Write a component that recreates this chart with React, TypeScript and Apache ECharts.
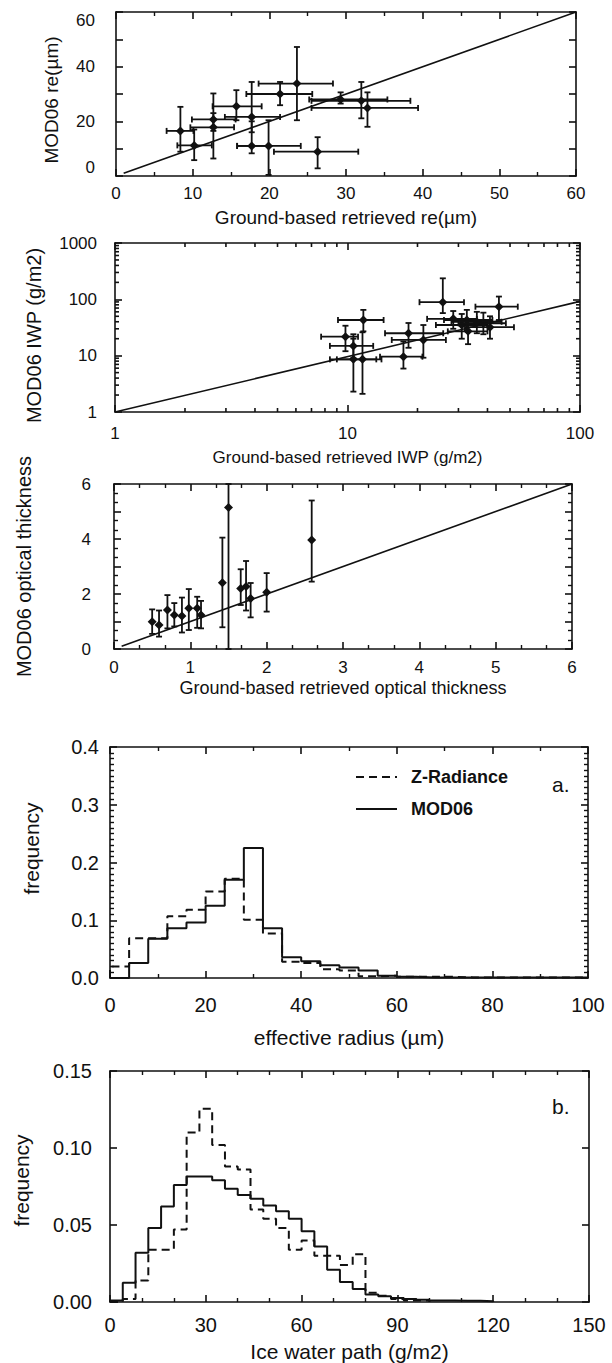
import { useEffect, useRef } from 'react';
import * as echarts from 'echarts';

const INK = '#111111';
const FONT = '"Liberation Sans", Arial, Helvetica, sans-serif';

// ---------- Panel 1: effective radius, [x, y, xLow, xHigh, yLow, yHigh]
const reScatter = [
  [8.4, 16.5, 6.6, 10.1, 8.9, 25.3],
  [10.2, 11.2, 8.0, 12.5, 5.8, 17.0],
  [12.7, 20.7, 9.9, 15.6, 16.5, 30.2],
  [12.7, 17.8, 9.7, 15.4, 6.4, 23.0],
  [15.7, 25.5, 12.6, 19.0, 20.4, 31.4],
  [17.7, 21.6, 14.2, 21.4, 16.0, 34.4],
  [17.7, 11.0, 15.8, 19.9, 8.3, 20.0],
  [19.9, 11.0, 15.8, 24.1, 0.4, 20.4],
  [21.4, 30.0, 17.0, 25.6, 25.9, 34.4],
  [23.6, 33.8, 18.6, 28.3, 20.4, 47.2],
  [26.3, 8.9, 20.6, 31.6, 2.8, 14.2],
  [29.3, 28.0, 25.2, 35.4, 26.5, 30.6],
  [32.0, 27.5, 25.5, 38.4, 21.1, 34.4],
  [32.8, 24.9, 25.5, 39.4, 18.0, 30.6],
];
const reReferenceLine = [[1, 1], [60, 60]];

// ---------- Panel 2: ice water path (log-log), [x, y, xLow, xHigh, yLow, yHigh]
const iwpScatter = [
  [11.7, 43, 9.1, 14.3, 27, 65],
  [9.8, 21.7, 7.7, 11.1, 12, 34],
  [10.6, 14.9, 8.4, 12.9, 9, 24],
  [10.6, 8.6, 8.4, 13.3, 2.3, 20],
  [11.6, 8.6, 9.0, 14.0, 2.1, 26],
  [17.4, 9.6, 13.8, 21.0, 5.9, 17.8],
  [18.3, 25, 14.5, 25.8, 13.8, 38],
  [21.2, 19, 15.5, 26.5, 9.2, 35],
  [25.7, 89, 20.4, 31.7, 57, 236],
  [28.5, 45, 22.0, 36.0, 30, 62],
  [31.0, 35, 24.0, 40.0, 20, 55],
  [32.6, 43, 26.0, 42.0, 28, 65],
  [33.0, 27, 27.0, 40.0, 16, 45],
  [38.4, 37.6, 30.0, 48.0, 24, 58],
  [44.8, 74, 35.5, 54.0, 43, 112],
  [41.0, 32, 32.0, 52.0, 20, 50],
  [36.0, 40, 28.0, 46.0, 25, 60],
];
const iwpReferenceLine = [[1, 1], [100, 92]];
const iwpMinorTicksX = [2, 3, 4, 5, 6, 7, 8, 9, 20, 30, 40, 50, 60, 70, 80, 90];
const iwpMinorTicksY = [2, 3, 4, 5, 6, 7, 8, 9, 20, 30, 40, 50, 60, 70, 80, 90, 200, 300, 400, 500, 600, 700, 800, 900];

// ---------- Panel 3: optical thickness, [x, y, yLow, yHigh]
const tauScatter = [
  [0.5, 0.99, 0.55, 1.44],
  [0.59, 0.87, 0.45, 1.4],
  [0.7, 1.42, 0.75, 1.96],
  [0.79, 1.24, 0.82, 1.67],
  [0.89, 1.2, 0.6, 1.87],
  [0.98, 1.48, 0.69, 2.18],
  [1.09, 1.48, 0.77, 1.9],
  [1.14, 1.24, 0.75, 1.75],
  [1.42, 2.41, 0.79, 4.05],
  [1.5, 5.15, 0, 6],
  [1.66, 2.2, 1.6, 2.9],
  [1.73, 2.27, 1.4, 3.2],
  [1.79, 1.84, 1.15, 2.4],
  [2.0, 2.06, 1.36, 2.76],
  [2.59, 3.96, 2.45, 5.4],
];
const tauReferenceLine = [[0.1, 0.1], [6, 6]];

// ---------- Panel 4: effective radius histogram (bins of 4 µm from 0)
const reBinStart = 0;
const reBinWidth = 4;
const reHistZRadiance = [0.02, 0.069, 0.069, 0.107, 0.118, 0.15, 0.172, 0.101, 0.077, 0.028, 0.026, 0.015, 0.013, 0.003, 0.004, 0.002, 0.002, 0.002, 0.001, 0.001, 0.001, 0.001, 0.001, 0.001, 0.001];
const reHistMod06 = [0, 0.026, 0.068, 0.086, 0.096, 0.125, 0.17, 0.225, 0.086, 0.036, 0.029, 0.022, 0.018, 0.013, 0.004, 0.002, 0.001, 0.001, 0.001, 0.001, 0.001, 0.001, 0.001, 0.001, 0.001];

// ---------- Panel 5: ice water path histogram (bins of 4 g/m2 from 0)
const iwpBinStart = 0;
const iwpBinWidth = 4;
const iwpHistZRadiance = [0, 0.002, 0.014, 0.034, 0.034, 0.047, 0.11, 0.1255, 0.102, 0.088, 0.086, 0.06, 0.054, 0.048, 0.034, 0.04, 0.03, 0.03, 0.024, 0.031, 0.006, 0.004, 0.002, 0.001, 0.001];
const iwpHistMod06 = [0.001, 0.0125, 0.032, 0.048, 0.062, 0.076, 0.0815, 0.0815, 0.079, 0.0736, 0.0694, 0.067, 0.0627, 0.059, 0.054, 0.046, 0.036, 0.021, 0.013, 0.0085, 0.0048, 0.0037, 0.0026, 0.002, 0.0015, 0.001, 0.001, 0.0008, 0.0008, 0.0005];

const SERIES_NAMES = ['Z-Radiance', 'MOD06'];

function stepPoints(start: number, width: number, values: number[]) {
  const pts: number[][] = [[start, 0]];
  values.forEach((v, i) => {
    pts.push([start + i * width, v]);
    pts.push([start + (i + 1) * width, v]);
  });
  pts.push([start + values.length * width, 0]);
  return pts;
}

const barStyle = { stroke: INK, lineWidth: 1.8 };
const tickStyle = { stroke: INK, lineWidth: 1.6 };

function renderErrorBar(_params: any, api: any) {
  const x = api.value(0);
  const y = api.value(1);
  const xlo = api.value(2);
  const xhi = api.value(3);
  const ylo = api.value(4);
  const yhi = api.value(5);
  const c = api.coord([x, y]);
  const cap = 3;
  const children: any[] = [];
  if (xhi > xlo) {
    const l = api.coord([xlo, y]);
    const r = api.coord([xhi, y]);
    children.push({ type: 'line', shape: { x1: l[0], y1: l[1], x2: r[0], y2: r[1] }, style: barStyle });
    children.push({ type: 'line', shape: { x1: l[0], y1: l[1] - cap, x2: l[0], y2: l[1] + cap }, style: barStyle });
    children.push({ type: 'line', shape: { x1: r[0], y1: r[1] - cap, x2: r[0], y2: r[1] + cap }, style: barStyle });
  }
  if (yhi > ylo) {
    const b = api.coord([x, ylo]);
    const t = api.coord([x, yhi]);
    children.push({ type: 'line', shape: { x1: b[0], y1: b[1], x2: t[0], y2: t[1] }, style: barStyle });
    children.push({ type: 'line', shape: { x1: b[0] - cap, y1: b[1], x2: b[0] + cap, y2: b[1] }, style: barStyle });
    children.push({ type: 'line', shape: { x1: t[0] - cap, y1: t[1], x2: t[0] + cap, y2: t[1] }, style: barStyle });
  }
  const d = 4.5;
  children.push({
    type: 'polygon',
    shape: { points: [[c[0], c[1] - d], [c[0] + d, c[1]], [c[0], c[1] + d], [c[0] - d, c[1]]] },
    style: { fill: INK },
  });
  return { type: 'group', children };
}

function makeAxis(gridIndex: number, position: string, o: any, withLabel: boolean) {
  const ax: any = {
    gridIndex,
    position,
    type: o.type || 'value',
    min: o.min,
    max: o.max,
    splitLine: { show: false },
    axisLine: { show: true, onZero: false, lineStyle: { color: INK, width: 1.6 } },
    axisTick: { show: true, inside: true, length: 7, lineStyle: { color: INK, width: 1.6 } },
  };
  if (o.interval !== undefined) ax.interval = o.interval;
  if (o.logBase) ax.logBase = o.logBase;
  if (o.minor) ax.minorTick = { show: true, splitNumber: o.minor, length: 4, lineStyle: { color: INK, width: 1.4 } };
  if (withLabel) {
    ax.name = o.name;
    ax.nameLocation = 'middle';
    ax.nameGap = o.nameGap;
    ax.nameTextStyle = { fontFamily: FONT, fontSize: o.nameSize, color: INK, padding: o.namePadding || 0 };
    const lab: any = { show: true, margin: o.margin, fontFamily: FONT, fontSize: o.labelSize, color: INK };
    if (o.formatter) lab.formatter = o.formatter;
    if (o.labelExtra) Object.assign(lab, o.labelExtra);
    ax.axisLabel = lab;
  } else {
    ax.axisLabel = { show: false };
  }
  return ax;
}

function xAxes(gridIndex: number, o: any) {
  return [makeAxis(gridIndex, 'bottom', o, true), makeAxis(gridIndex, 'top', o, false)];
}
function yAxes(gridIndex: number, o: any) {
  return [makeAxis(gridIndex, 'left', o, true), makeAxis(gridIndex, 'right', o, false)];
}

function minorTickSeries(axisIdx: number, values: number[], dir: 'x' | 'y', lo: number[], hi: number[]) {
  return {
    type: 'custom',
    xAxisIndex: axisIdx,
    yAxisIndex: axisIdx,
    silent: true,
    data: values.map((v) => (dir === 'x' ? [v, lo[1]] : [lo[0], v])),
    encode: { x: 0, y: 1 },
    renderItem: (_p: any, api: any) => {
      const len = 4;
      if (dir === 'x') {
        const v = api.value(0);
        const b = api.coord([v, lo[1]]);
        const t = api.coord([v, hi[1]]);
        return {
          type: 'group',
          children: [
            { type: 'line', shape: { x1: b[0], y1: b[1], x2: b[0], y2: b[1] - len }, style: tickStyle },
            { type: 'line', shape: { x1: t[0], y1: t[1], x2: t[0], y2: t[1] + len }, style: tickStyle },
          ],
        };
      }
      const v = api.value(1);
      const l = api.coord([lo[0], v]);
      const r = api.coord([hi[0], v]);
      return {
        type: 'group',
        children: [
          { type: 'line', shape: { x1: l[0], y1: l[1], x2: l[0] + len, y2: l[1] }, style: tickStyle },
          { type: 'line', shape: { x1: r[0], y1: r[1], x2: r[0] - len, y2: r[1] }, style: tickStyle },
        ],
      };
    },
  };
}

function histLine(name: string, axisIdx: number, data: number[][], dashed: boolean) {
  return {
    name,
    type: 'line',
    xAxisIndex: axisIdx,
    yAxisIndex: axisIdx,
    data,
    symbol: 'none',
    showSymbol: false,
    silent: true,
    itemStyle: { color: INK },
    lineStyle: { color: INK, width: 2, type: dashed ? [8, 5] : 'solid' },
  };
}

export default function App() {
  const ref = useRef<HTMLDivElement>(null);
  useEffect(() => {
    if (!ref.current) return;
    const chart = echarts.init(ref.current, null, { renderer: 'svg' });
    const option: any = {
      animation: false,
      backgroundColor: '#ffffff',
      grid: [
        { left: 116, top: 12, width: 460, height: 164 },
        { left: 115, top: 243, width: 465, height: 169 },
        { left: 114, top: 484, width: 458, height: 165 },
        { left: 110, top: 747, width: 478, height: 231 },
        { left: 110, top: 1071, width: 479, height: 231 },
      ],
      xAxis: [
        ...xAxes(0, { min: 0, max: 60, interval: 10, minor: 2, name: 'Ground-based retrieved re(µm)', nameGap: 32, nameSize: 19, margin: 9, labelSize: 17 }),
        ...xAxes(1, { type: 'log', logBase: 10, min: 1, max: 100, name: 'Ground-based retrieved IWP (g/m2)', nameGap: 37, nameSize: 17, margin: 13, labelSize: 17, formatter: (v: number) => String(v) }),
        ...xAxes(2, { min: 0, max: 6, interval: 1, minor: 3, name: 'Ground-based retrieved optical thickness', nameGap: 30, nameSize: 18, margin: 10, labelSize: 17 }),
        ...xAxes(3, { min: 0, max: 100, interval: 20, minor: 2, name: 'effective radius (µm)', nameGap: 49, nameSize: 21, margin: 17, labelSize: 20 }),
        ...xAxes(4, { min: 0, max: 150, interval: 30, minor: 3, name: 'Ice water path (g/m2)', nameGap: 39, nameSize: 21, margin: 13, labelSize: 20 }),
      ],
      yAxis: [
        ...yAxes(0, {
          min: 0, max: 60, interval: 10, name: 'MOD06 re(µm)', nameGap: 55, nameSize: 19, margin: 21, labelSize: 17,
          namePadding: [0, 12, 0, 0],
          labelExtra: { verticalAlignMaxLabel: 'top', verticalAlignMinLabel: 'bottom' },
          formatter: (v: number) => (v % 20 === 0 ? String(v) : ''),
        }),
        ...yAxes(1, { type: 'log', logBase: 10, min: 1, max: 1000, name: 'MOD06 IWP (g/m2)', nameGap: 71, nameSize: 20, margin: 18, labelSize: 17, namePadding: [0, 16, 0, 0], formatter: (v: number) => String(v) }),
        ...yAxes(2, { min: 0, max: 6, interval: 1, minor: 3, name: 'MOD06 optical thickness', nameGap: 80, nameSize: 20, margin: 23, labelSize: 17, formatter: (v: number) => (v % 2 === 0 ? String(v) : '') }),
        ...yAxes(3, { min: 0, max: 0.4, interval: 0.1, minor: 10, name: 'frequency', nameGap: 68, nameSize: 21, margin: 11, labelSize: 20, namePadding: [0, 0, 0, 28], formatter: (v: number) => v.toFixed(1) }),
        ...yAxes(4, { min: 0, max: 0.15, interval: 0.05, name: 'frequency', nameGap: 78, nameSize: 21, margin: 18, labelSize: 20, namePadding: [0, 0, 0, 12], formatter: (v: number) => v.toFixed(2) }),
      ],
      legend: {
        data: SERIES_NAMES,
        orient: 'vertical',
        left: 350,
        top: 763,
        itemWidth: 41,
        itemHeight: 12,
        itemGap: 14,
        selectedMode: false,
        itemStyle: { opacity: 0 },
        textStyle: { fontFamily: FONT, fontSize: 18, fontWeight: 'bold', color: INK, padding: [0, 0, 0, 9] },
      },
      graphic: [
        { type: 'text', left: 552, top: 774, style: { text: 'a.', font: `21px ${FONT}`, fill: INK } },
        { type: 'text', left: 552, top: 1096, style: { text: 'b.', font: `21px ${FONT}`, fill: INK } },
      ],
      series: [
        { type: 'line', xAxisIndex: 0, yAxisIndex: 0, data: reReferenceLine, symbol: 'none', silent: true, lineStyle: { color: INK, width: 1.6 } },
        { type: 'custom', xAxisIndex: 0, yAxisIndex: 0, data: reScatter, encode: { x: 0, y: 1 }, renderItem: renderErrorBar, silent: true },

        { type: 'line', xAxisIndex: 2, yAxisIndex: 2, data: iwpReferenceLine, symbol: 'none', silent: true, lineStyle: { color: INK, width: 1.6 } },
        { type: 'custom', xAxisIndex: 2, yAxisIndex: 2, data: iwpScatter, encode: { x: 0, y: 1 }, renderItem: renderErrorBar, silent: true },
        minorTickSeries(2, iwpMinorTicksX, 'x', [1, 1], [100, 1000]),
        minorTickSeries(2, iwpMinorTicksY, 'y', [1, 1], [100, 1000]),

        { type: 'line', xAxisIndex: 4, yAxisIndex: 4, data: tauReferenceLine, symbol: 'none', silent: true, lineStyle: { color: INK, width: 1.6 } },
        {
          type: 'custom', xAxisIndex: 4, yAxisIndex: 4,
          data: tauScatter.map((p) => [p[0], p[1], p[0], p[0], p[2], p[3]]),
          encode: { x: 0, y: 1 }, renderItem: renderErrorBar, silent: true,
        },

        histLine(SERIES_NAMES[0], 6, stepPoints(reBinStart, reBinWidth, reHistZRadiance), true),
        histLine(SERIES_NAMES[1], 6, stepPoints(reBinStart, reBinWidth, reHistMod06), false),
        histLine(SERIES_NAMES[0], 8, stepPoints(iwpBinStart, iwpBinWidth, iwpHistZRadiance), true),
        histLine(SERIES_NAMES[1], 8, stepPoints(iwpBinStart, iwpBinWidth, iwpHistMod06), false),
      ],
    };
    chart.setOption(option);
    return () => chart.dispose();
  }, []);
  return <div ref={ref} style={{ position: 'absolute', left: 0, top: 0, width: 612, height: 1363, background: '#fff' }} />;
}
